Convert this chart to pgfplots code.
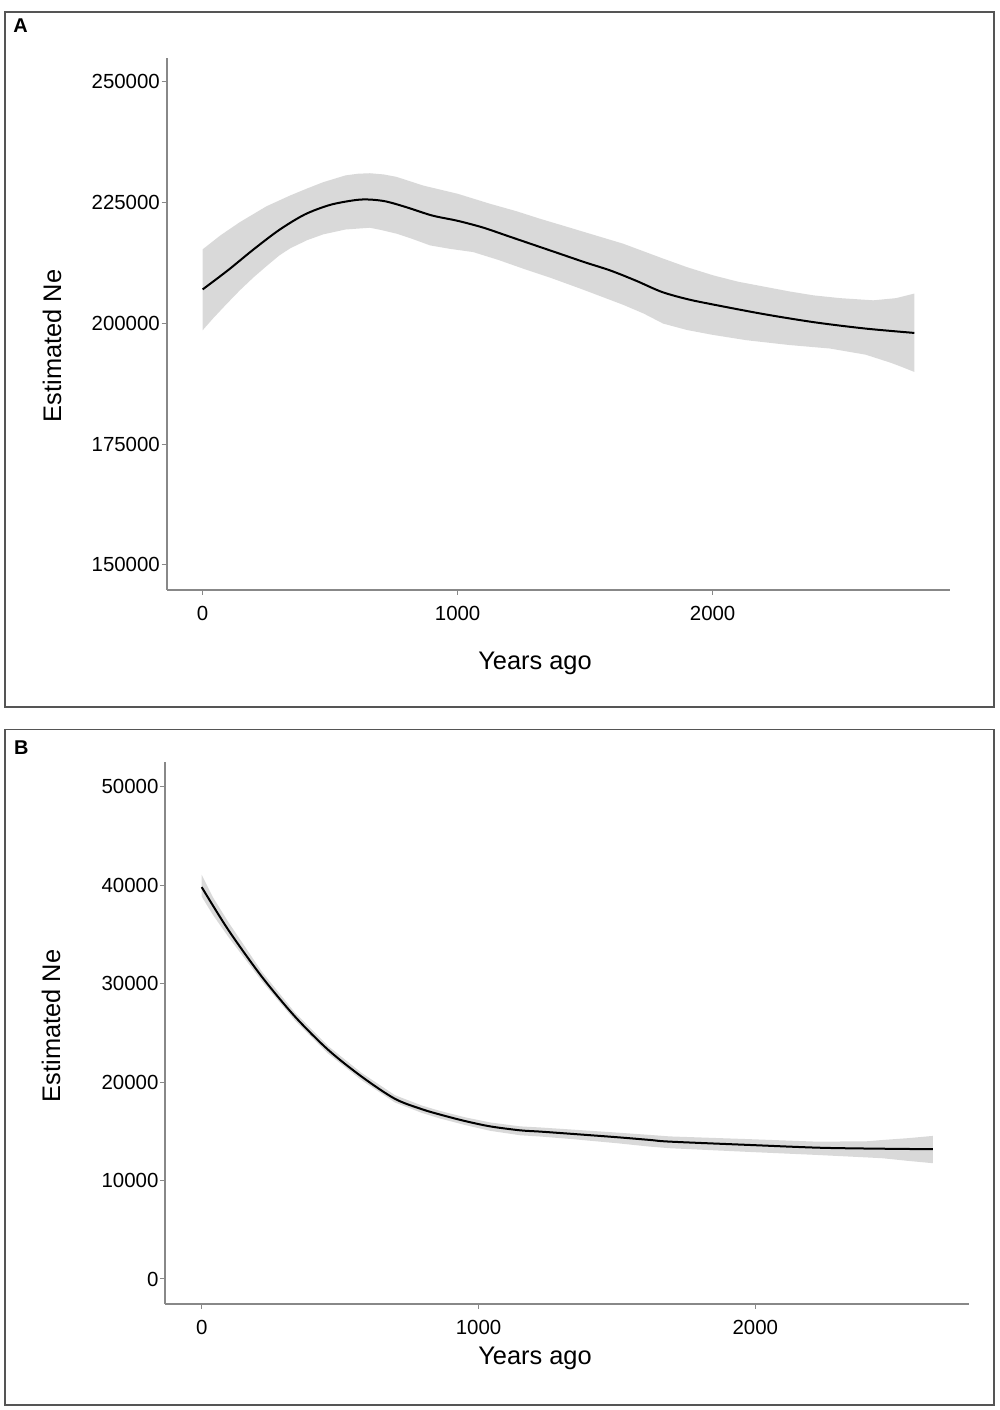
\documentclass[border=0pt]{standalone}
\usepackage{fontspec}
\setmainfont{Liberation Sans}
\usepackage{pgfplots}
\pgfplotsset{compat=1.18}
\definecolor{bandgray}{HTML}{D9D9D9}
\definecolor{axgray}{HTML}{888888}
\definecolor{framegray}{HTML}{555555}
\pgfplotsset{
  myax/.style={
    scale only axis, axis x line=bottom, axis y line=left,
    axis line style={axgray, line width=1.8bp, -},
    tick style={axgray, line width=1bp},
    tick align=outside, major tick length=5bp,
    scaled y ticks=false, scaled x ticks=false,
    xtick={0,1000,2000}, xticklabels={0,1000,2000},
    /pgf/number format/assume math mode=true,
    tick label style={font=\fontsize{20.5}{24}\selectfont, text=black},
    yticklabel style={anchor=east, inner sep=0pt, xshift=-1.7bp},
    xticklabel style={anchor=base, inner sep=0pt, yshift=-25.7bp},
  },
  meanline/.style={black, line width=2bp, smooth, tension=0.5},
  band/.style={fill=bandgray, draw=none},
}
\begin{document}
\begin{tikzpicture}
\useasboundingbox (0bp,0bp) rectangle (1000bp,1410bp);
\draw[framegray, line width=1.5bp] (5bp,703bp) rectangle (994bp,1398bp);
\draw[framegray, line width=1.5bp] (5bp,5bp) rectangle (994bp,680.7bp);

% Panel A
\begin{axis}[myax, at={(166.7bp,820bp)}, anchor=south west,
  width=783.3bp, height=532bp,
  xmin=-141, xmax=2931, ymin=144800, ymax=254900,
  ytick={150000,175000,200000,225000,250000},
  yticklabels={150000,175000,200000,225000,250000}]
\addplot[band] coordinates {
(0,215300) (70,218200) (146,220930) (250,224200) (343,226440) (410,227900)
(473,229200) (560,230600) (610,230950) (656,231050) (710,230800) (760,230300)
(865,228500) (1000,226800) (1127,224730) (1230,223200)
(1323,221630) (1420,220100) (1519,218530) (1649,216470) (1800,213500) (1900,211600) (2002,209920)
(2100,208600) (2200,207600) (2300,206600) (2395,205780) (2500,205200) (2630,204750) (2720,205200) (2791,206140)
(2791,189930) (2740,191000) (2700,191800) (2600,193500) (2460,194770) (2300,195500)
(2133,196490) (2000,197600) (1900,198600) (1806,199930) (1730,202000) (1650,203800) (1560,205600) (1481,207170)
(1370,209300) (1257,211300) (1160,213100) (1061,214730) (970,215400) (892,216110) (820,217500) (761,218530) (700,219300) (656,219770)
(560,219400) (473,218400) (410,217200) (343,215500) (300,214000) (250,211800) (200,209520) (146,206820) (90,203770) (40,200950) (0,198550)} -- cycle;
\addplot[meanline] coordinates {
(0,207000) (100,211000) (200,215300) (300,219300) (400,222500) (500,224500)
(600,225500) (656,225600) (720,225200) (800,224000) (900,222300) (1000,221200)
(1100,219800) (1200,218000) (1300,216200) (1400,214400) (1500,212600)
(1600,210900) (1700,208800) (1800,206500) (1900,205000) (2000,203900)
(2200,201900) (2400,200200) (2600,198900) (2791,198000)};
\end{axis}

% Panel B
\begin{axis}[myax, at={(165.3bp,106bp)}, anchor=south west,
  width=804bp, height=542.3bp,
  xmin=-131.5, xmax=2773, ymin=-2540, ymax=52540,
  ytick={0,10000,20000,30000,40000,50000},
  yticklabels={0,10000,20000,30000,40000,50000}]
\addplot[band] coordinates {
(0,41050) (40,38800) (96,36260) (217,31210) (337,27050) (457,23650) (578,20920)
(698,18670) (795,17620) (861,17070) (950,16430) (1042,15900) (1150,15500)
(1223,15390) (1342,15170) (1500,14870) (1620,14630) (1692,14480) (1981,14200)
(2221,13950) (2400,13980) (2461,14120) (2550,14300) (2641,14530)
(2641,11760) (2550,12000) (2461,12260) (2400,12350) (2221,12600) (1981,12900)
(1692,13280) (1620,13440) (1500,13790) (1342,14200) (1223,14470) (1150,14600)
(1042,15050) (950,15650) (861,16300) (795,16870) (698,17930) (578,20180)
(457,22880) (337,26250) (217,30260) (96,34760) (40,37000) (0,38840)} -- cycle;
\addplot[meanline] coordinates {
(0,39800) (96,35460) (217,30710) (337,26650) (457,23270) (578,20550)
(698,18300) (795,17250) (861,16700) (950,16050) (1042,15500) (1150,15100)
(1223,14970) (1342,14730) (1500,14400) (1620,14120) (1692,13950) (1981,13610)
(2221,13340) (2400,13250) (2641,13180)};
\end{axis}

\node[anchor=base, inner sep=0pt, font=\fontsize{25.5}{30}\selectfont] at (535bp,740bp) {Years ago};
\node[anchor=base, inner sep=0pt, font=\fontsize{25.5}{30}\selectfont] at (535bp,45.7bp) {Years ago};
\node[rotate=90, anchor=base, inner sep=0pt, font=\fontsize{25.5}{30}\selectfont] at (61bp,1064bp) {Estimated Ne};
\node[rotate=90, anchor=base, inner sep=0pt, font=\fontsize{25.5}{30}\selectfont] at (60bp,384bp) {Estimated Ne};
\node[anchor=base west, inner sep=0pt, font=\bfseries\fontsize{20}{24}\selectfont] at (13.3bp,1377.3bp) {A};
\node[anchor=base west, inner sep=0pt, font=\bfseries\fontsize{20}{24}\selectfont] at (14bp,655bp) {B};
\end{tikzpicture}
\end{document}
